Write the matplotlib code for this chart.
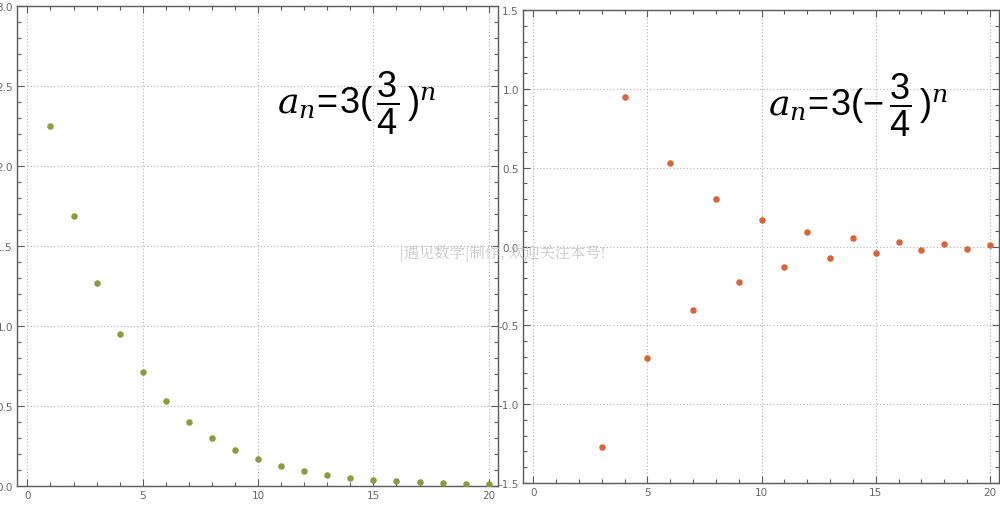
import matplotlib
matplotlib.use("Agg")
import matplotlib.pyplot as plt
from matplotlib import ticker as mticker

# sequence a_n = 3(3/4)^n
n_left = list(range(1, 21))
a_left = [2.25, 1.69, 1.27, 0.95, 0.71, 0.53, 0.40, 0.30, 0.225, 0.17,
          0.127, 0.095, 0.071, 0.053, 0.04, 0.03, 0.023, 0.017, 0.013, 0.01]

# a_n = 3(-3/4)^n, n=1,2 fall outside the plot range
n_right = list(range(3, 21))
a_right = [-1.27, 0.95, -0.71, 0.53, -0.40, 0.30, -0.225, 0.17, -0.127, 0.095,
           -0.071, 0.053, -0.04, 0.03, -0.023, 0.017, -0.013, 0.01]

xticks = [0, 5, 10, 15, 20]
left_yticks = [0.0, 0.5, 1.0, 1.5, 2.0, 2.5, 3.0]
right_yticks = [-1.5, -1.0, -0.5, 0.0, 0.5, 1.0, 1.5]

frame_col = '#5a5a5a'
label_col = '#666666'

# sans digits, serif italic letters, like the reference formula
plt.rcParams['mathtext.fontset'] = 'custom'
plt.rcParams['mathtext.rm'] = 'Liberation Sans'
plt.rcParams['mathtext.it'] = 'DejaVu Serif:italic'


def style_axes(ax, yticks, ylim, minor_y):
	ax.set_xlim(-0.45, 20.4)
	ax.set_ylim(*ylim)
	ax.set_xticks(xticks)
	ax.set_yticks(yticks)
	ax.xaxis.set_minor_locator(mticker.MultipleLocator(1))
	ax.yaxis.set_minor_locator(mticker.MultipleLocator(minor_y))
	ax.yaxis.set_major_formatter(mticker.FormatStrFormatter('%.1f'))
	ax.grid(True, which='major', linestyle=(0, (1, 2)), color='#b0b0b0', linewidth=0.8)
	for sp in ax.spines.values():
		sp.set_color(frame_col)
		sp.set_linewidth(1.0)
	ax.tick_params(which='both', direction='in', top=True, right=True,
		colors=frame_col, labelcolor=label_col, labelsize=7.5, width=0.8)
	ax.tick_params(which='major', length=5, pad=3)
	ax.tick_params(which='minor', length=3)
	ax.set_axisbelow(True)


fig = plt.figure(figsize=(10, 5.06), dpi=100)
ax1 = fig.add_axes([0.017, 1 - 487 / 506, 0.481, 480 / 506])
ax2 = fig.add_axes([0.523, 1 - 484 / 506, 0.476, 473 / 506])

style_axes(ax1, left_yticks, (0, 3.0), 0.1)
style_axes(ax2, right_yticks, (-1.5, 1.5), 0.1)

ax1.scatter(n_left, a_left, s=22, color='#8a9b40', zorder=3, linewidths=0)
ax2.scatter(n_right, a_right, s=22, color='#d8643a', zorder=3, linewidths=0)

ax1.text(0.54, 0.80, r'$a_n\!=\!3(\,\dfrac{3}{4}\,)^n$', transform=ax1.transAxes,
	fontsize=26, color='black', ha='left', va='center')
ax2.text(0.515, 0.80, r'$a_n\!=\!3(-\,\dfrac{3}{4}\,)^n$', transform=ax2.transAxes,
	fontsize=26, color='black', ha='left', va='center')

# watermark
fig.text(0.502, 0.5, '|遇见数学|制作, 欢迎关注本号!', ha='center', va='center',
	fontsize=11, color='#c8c8c8', family=['Noto Serif CJK SC', 'Noto Sans CJK SC', 'DejaVu Sans'])

fig.savefig('out.png', dpi=100)
